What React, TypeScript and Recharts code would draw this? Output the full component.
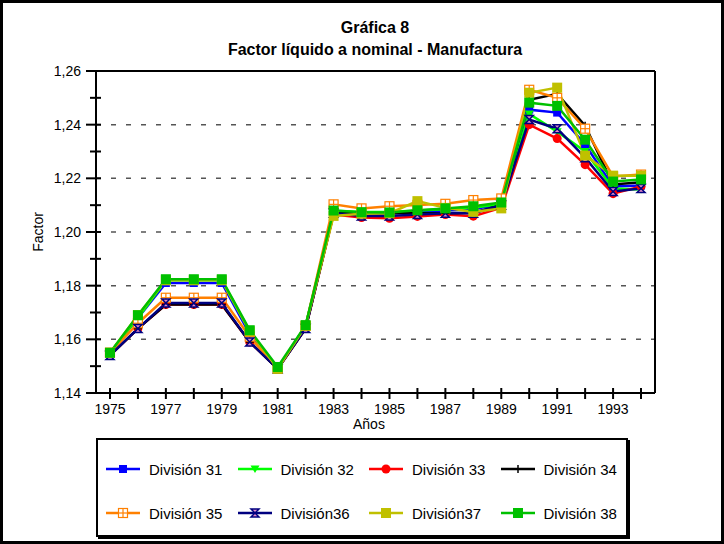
import React from 'react';
import { LineChart, Line, XAxis, YAxis, ReferenceLine } from 'recharts';

const years = [1975, 1976, 1977, 1978, 1979, 1980, 1981, 1982, 1983, 1984, 1985, 1986, 1987, 1988, 1989, 1990, 1991, 1992, 1993, 1994];

const div31 = [1.155, 1.168, 1.181, 1.181, 1.181, 1.162, 1.149, 1.165, 1.2075, 1.207, 1.207, 1.2075, 1.208, 1.2085, 1.2105, 1.2456, 1.2445, 1.2326, 1.217, 1.2173];
const div32 = [1.155, 1.168, 1.182, 1.182, 1.182, 1.163, 1.149, 1.165, 1.208, 1.2075, 1.2075, 1.208, 1.2085, 1.209, 1.2105, 1.244, 1.2374, 1.23, 1.2162, 1.2158];
const div33 = [1.154, 1.164, 1.173, 1.173, 1.173, 1.159, 1.149, 1.164, 1.2065, 1.2054, 1.2051, 1.2058, 1.2065, 1.2059, 1.209, 1.24, 1.2348, 1.2251, 1.2143, 1.217];
const div34 = [1.154, 1.164, 1.173, 1.173, 1.173, 1.159, 1.149, 1.164, 1.207, 1.207, 1.207, 1.207, 1.207, 1.2072, 1.21, 1.2493, 1.2515, 1.2396, 1.2177, 1.2185];
const div35 = [1.155, 1.166, 1.1755, 1.1755, 1.1755, 1.161, 1.149, 1.165, 1.2103, 1.2088, 1.2096, 1.2101, 1.2105, 1.2119, 1.2125, 1.253, 1.25, 1.2385, 1.2207, 1.2214];
const div36 = [1.154, 1.164, 1.1735, 1.1735, 1.1735, 1.159, 1.149, 1.164, 1.207, 1.206, 1.206, 1.2065, 1.207, 1.207, 1.21, 1.2419, 1.2385, 1.2277, 1.2151, 1.2162];
const div37 = [1.155, 1.169, 1.182, 1.182, 1.182, 1.163, 1.149, 1.165, 1.206, 1.2068, 1.207, 1.2115, 1.209, 1.2075, 1.2088, 1.2519, 1.2538, 1.2285, 1.221, 1.221];
const div38 = [1.155, 1.169, 1.1824, 1.1824, 1.1824, 1.1634, 1.1497, 1.1653, 1.208, 1.2074, 1.2073, 1.2081, 1.2088, 1.2096, 1.211, 1.2482, 1.247, 1.2344, 1.2188, 1.2196];

const yTicks = [1.14, 1.15, 1.16, 1.17, 1.18, 1.19, 1.2, 1.21, 1.22, 1.23, 1.24, 1.25, 1.26];
const gridValues = [1.16, 1.18, 1.2, 1.22, 1.24];

type Shape = 'square' | 'triangle' | 'circle' | 'plus' | 'gridSquare' | 'bowtie' | 'bigSquare';

const series: { key: string; name: string; color: string; shape: Shape; values: number[] }[] = [
  { key: 'd31', name: 'División 31', color: '#0000FF', shape: 'square', values: div31 },
  { key: 'd32', name: 'División 32', color: '#00FF00', shape: 'triangle', values: div32 },
  { key: 'd33', name: 'División 33', color: '#FF0000', shape: 'circle', values: div33 },
  { key: 'd34', name: 'División 34', color: '#000000', shape: 'plus', values: div34 },
  { key: 'd35', name: 'División 35', color: '#FF8000', shape: 'gridSquare', values: div35 },
  { key: 'd36', name: 'División36', color: '#000080', shape: 'bowtie', values: div36 },
  { key: 'd37', name: 'División37', color: '#C0C000', shape: 'bigSquare', values: div37 },
  { key: 'd38', name: 'División 38', color: '#00C000', shape: 'bigSquare', values: div38 },
];

const data = years.map((year, i) => {
  const row: Record<string, number> = { year };
  series.forEach((s) => {
    row[s.key] = s.values[i];
  });
  return row;
});

const FONT = '"Liberation Sans", Arial, sans-serif';

function Marker({ shape, color, x, y }: { shape: Shape; color: string; x: number; y: number }) {
  switch (shape) {
    case 'square':
      return <rect x={x - 4} y={y - 4} width={8} height={8} fill={color} />;
    case 'bigSquare':
      return <rect x={x - 5} y={y - 5} width={10} height={10} fill={color} />;
    case 'triangle':
      return <polygon points={`${x - 4.5},${y - 3.5} ${x + 4.5},${y - 3.5} ${x},${y + 4}`} fill={color} />;
    case 'circle':
      return <circle cx={x} cy={y} r={4.5} fill={color} />;
    case 'plus':
      return (
        <g stroke={color} strokeWidth={1.5}>
          <line x1={x - 4} y1={y} x2={x + 4} y2={y} />
          <line x1={x} y1={y - 4} x2={x} y2={y + 4} />
        </g>
      );
    case 'gridSquare':
      return (
        <g stroke={color} strokeWidth={1.2} fill="#fff">
          <rect x={x - 4.5} y={y - 4.5} width={9} height={9} />
          <line x1={x - 4.5} y1={y} x2={x + 4.5} y2={y} />
          <line x1={x} y1={y - 4.5} x2={x} y2={y + 4.5} />
        </g>
      );
    case 'bowtie':
      return (
        <polygon
          points={`${x - 4},${y - 4} ${x + 4},${y - 4} ${x - 4},${y + 4} ${x + 4},${y + 4}`}
          fill="#E58AC8"
          stroke={color}
          strokeWidth={1.5}
        />
      );
    default:
      return null;
  }
}

const XTick = (props: any) => {
  const { x, y, payload } = props;
  const v = payload.value as number;
  return (
    <g>
      <line x1={x} y1={y - 5} x2={x} y2={y + 6} stroke="#000" strokeWidth={2} />
      {v % 2 === 1 && (
        <text x={x} y={y + 21} textAnchor="middle" fontSize={14} fontFamily={FONT} fill="#000">
          {v}
        </text>
      )}
    </g>
  );
};

const YTick = (props: any) => {
  const { x, y, payload } = props;
  const v = payload.value as number;
  const major = Math.round(v * 100) % 2 === 0;
  return (
    <g>
      <line x1={major ? x - 10 : x - 6} y1={y} x2={x + 5} y2={y} stroke="#000" strokeWidth={2} />
      {major && (
        <text x={x - 15} y={y + 5} textAnchor="end" fontSize={14} fontFamily={FONT} fill="#000">
          {v.toFixed(2).replace('.', ',')}
        </text>
      )}
    </g>
  );
};

const LegendBox = () => (
  <div
    style={{
      position: 'absolute',
      left: 96,
      top: 438,
      width: 528,
      height: 95,
      border: '2px solid #000',
      boxShadow: '2px 2px 0 #000',
      background: '#fff',
    }}
  >
    {series.map((s, i) => {
      const col = i % 4;
      const row = Math.floor(i / 4);
      return (
        <div
          key={s.key}
          style={{ position: 'absolute', left: 8 + col * 131.5, top: 29 + row * 44 - 10, height: 20, display: 'flex', alignItems: 'center' }}
        >
          <svg width={34} height={20}>
            <line x1={0} y1={10} x2={34} y2={10} stroke={s.color} strokeWidth={2.5} />
            <Marker shape={s.shape} color={s.color} x={17} y={10} />
          </svg>
          <span style={{ marginLeft: 9, fontFamily: FONT, fontSize: 15, color: '#000', whiteSpace: 'nowrap' }}>{s.name}</span>
        </div>
      );
    })}
  </div>
);

export default function App() {
  return (
    <div style={{ position: 'absolute', left: 0, top: 0, width: 724, height: 544, background: '#fff', fontFamily: FONT }}>
      <div style={{ position: 'absolute', left: 0, top: 19, width: 750, textAlign: 'center', fontWeight: 'bold', fontSize: 16, lineHeight: '18px' }}>
        Gráfica 8
      </div>
      <div style={{ position: 'absolute', left: 0, top: 41, width: 750, textAlign: 'center', fontWeight: 'bold', fontSize: 16, lineHeight: '18px' }}>
        Factor líquido a nominal - Manufactura
      </div>
      <LineChart width={724} height={544} data={data} margin={{ top: 71, right: 69, left: 0, bottom: 0 }}>
        <XAxis
          dataKey="year"
          type="number"
          domain={[1974.5, 1994.5]}
          ticks={years}
          interval={0}
          tickSize={0}
          tickMargin={0}
          tick={<XTick />}
          height={151}
          axisLine={{ stroke: '#000', strokeWidth: 2 }}
        />
        <YAxis
          type="number"
          domain={[1.14, 1.26]}
          ticks={yTicks}
          interval={0}
          tickSize={0}
          tickMargin={0}
          tick={<YTick />}
          width={96}
          axisLine={{ stroke: '#000', strokeWidth: 2 }}
        />
        {gridValues.map((v) => (
          <ReferenceLine key={v} y={v} stroke="#555" strokeWidth={1.5} strokeDasharray="5 10" />
        ))}
        <ReferenceLine y={1.26} stroke="#000" strokeWidth={2} />
        <ReferenceLine x={1994.5} stroke="#000" strokeWidth={2} />
        {series.map((s) => (
          <Line
            key={s.key}
            dataKey={s.key}
            name={s.name}
            stroke={s.color}
            strokeWidth={2.5}
            isAnimationActive={false}
            dot={(p: any) => <Marker key={`${s.key}-${p.index}`} shape={s.shape} color={s.color} x={p.cx} y={p.cy} />}
            activeDot={false}
          />
        ))}
      </LineChart>
      <div style={{ position: 'absolute', left: 353, top: 416, fontSize: 14, lineHeight: '16px' }}>Años</div>
      <div
        style={{
          position: 'absolute',
          left: 38,
          top: 232,
          fontSize: 14,
          lineHeight: '16px',
          transform: 'translate(-50%, -50%) rotate(-90deg)',
        }}
      >
        Factor
      </div>
      <LegendBox />
      <div style={{ position: 'absolute', left: 0, top: 0, width: 724, height: 544, border: '3px solid #000', boxSizing: 'border-box', pointerEvents: 'none' }} />
    </div>
  );
}
